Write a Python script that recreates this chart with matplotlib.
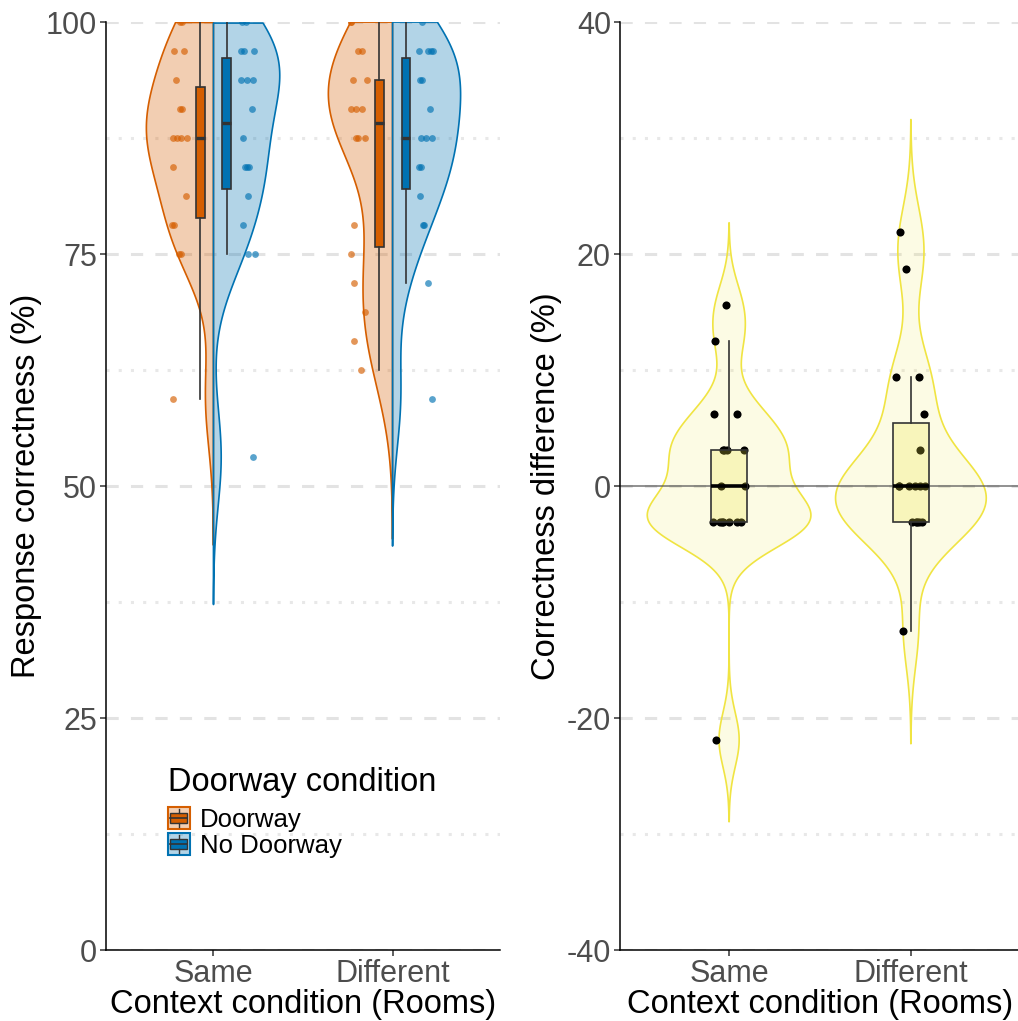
import numpy as np
import matplotlib
matplotlib.use("Agg")
import matplotlib.pyplot as plt
from matplotlib.patches import Rectangle
from matplotlib.lines import Line2D
from matplotlib.legend_handler import HandlerBase

plt.rcParams['font.family'] = ['Liberation Sans', 'DejaVu Sans']
plt.rcParams['axes.unicode_minus'] = False

# --- data (percent correct per participant) ---
conditions = ['Same', 'Different']
doorway_same = [59.375, 75, 75, 78.125, 78.125, 81.25, 84.375, 87.5, 87.5, 87.5, 87.5,
                90.625, 90.625, 93.75, 96.875, 96.875, 100, 100]
nodoor_same = [53.125, 75, 75, 78.125, 81.25, 84.375, 84.375, 84.375, 87.5, 90.625,
               93.75, 93.75, 93.75, 96.875, 96.875, 96.875, 100, 100]
doorway_diff = [62.5, 65.625, 68.75, 71.875, 75, 78.125, 87.5, 87.5, 87.5, 90.625,
                90.625, 90.625, 93.75, 93.75, 96.875, 96.875, 100, 100]
nodoor_diff = [59.375, 71.875, 78.125, 78.125, 81.25, 84.375, 84.375, 87.5, 87.5, 87.5,
               90.625, 93.75, 93.75, 96.875, 96.875, 96.875, 96.875, 100]
# correctness difference (Doorway - No Doorway)
diff_same = [-21.875, -3.125, -3.125, -3.125, -3.125, -3.125, -3.125, -3.125, 0, 0,
             3.125, 3.125, 3.125, 3.125, 6.25, 6.25, 12.5, 15.625]
diff_diff = [-12.5, -3.125, -3.125, -3.125, -3.125, -3.125, 0, 0, 0, 0, 0, 0,
             3.125, 6.25, 9.375, 9.375, 18.75, 21.875]

ORANGE = '#D55E00'
BLUE = '#0072B2'
YELLOW = '#F0E442'
DARK = '#333333'


def kde_nrd0(vals, top=None):
    # gaussian kernel density like R's density() with bw.nrd0, cut = 3
    v = np.asarray(vals, float)
    q1, q3 = np.percentile(v, [25, 75])
    bw = 0.9 * min(v.std(ddof=1), (q3 - q1) / 1.34) * len(v) ** -0.2
    grid = np.linspace(v.min() - 3 * bw, v.max() + 3 * bw, 512)
    if top is not None:
        grid = grid[grid <= top]
    d = np.exp(-0.5 * ((grid[:, None] - v[None, :]) / bw) ** 2).sum(1)
    d /= len(v) * bw * np.sqrt(2 * np.pi)
    return grid, d


def style_axes(ax, majors, minors):
    ax.set_yticks(majors)
    ax.set_yticks(minors, minor=True)
    ax.grid(axis='y', which='major', ls=(0, (4, 4)), color='#E3E3E3', lw=2.2)
    ax.grid(axis='y', which='minor', ls=(0, (1, 3)), color='#E8E8E8', lw=2.2)
    ax.set_axisbelow(True)
    for s in ['top', 'right']:
        ax.spines[s].set_visible(False)
    for s in ['left', 'bottom']:
        ax.spines[s].set_linewidth(1.1)
    ax.tick_params(which='major', labelsize=22, labelcolor='#4D4D4D', length=4,
                   width=1.1, color=DARK, pad=2.5)
    ax.tick_params(which='minor', length=0)
    ax.set_xticks([1, 2])
    ax.set_xticklabels(conditions)
    ax.set_xlim(0.4, 2.6)
    ax.set_xlabel('Context condition (Rooms)', fontsize=23.5, labelpad=0)


fig = plt.figure(figsize=(10.18, 10.21), dpi=100)
axL = fig.add_axes([106 / 1018, 71 / 1021, 394 / 1018, 928 / 1021])
axR = fig.add_axes([620 / 1018, 71 / 1021, 400 / 1018, 928 / 1021])

rng = np.random.default_rng(11)

# ---------------- left panel: split violins ----------------
groups = [(1, doorway_same, ORANGE, -1), (1, nodoor_same, BLUE, 1),
          (2, doorway_diff, ORANGE, -1), (2, nodoor_diff, BLUE, 1)]
dens = [kde_nrd0(g[1], top=100) for g in groups]
dmax = max(d.max() for _, d in dens)
for (pos, vals, col, side), (y, d) in zip(groups, dens):
    w = 0.38 * d / dmax
    if side < 0:
        axL.fill_betweenx(y, pos - w, pos, facecolor=col, alpha=0.3, lw=0, zorder=2)
        axL.fill_betweenx(y, pos - w, pos, facecolor='none', edgecolor=col, lw=1.2, zorder=2)
    else:
        axL.fill_betweenx(y, pos, pos + w, facecolor=col, alpha=0.3, lw=0, zorder=2)
        axL.fill_betweenx(y, pos, pos + w, facecolor='none', edgecolor=col, lw=1.2, zorder=2)

for pos, vals, col, side in groups:
    bp = axL.boxplot([vals], positions=[pos + side * 0.075], widths=0.05,
                     patch_artist=True, showfliers=False, showcaps=False,
                     manage_ticks=False, whis=1.5,
                     boxprops=dict(facecolor=col, edgecolor=DARK, lw=1.2),
                     medianprops=dict(color=DARK, lw=2.4),
                     whiskerprops=dict(color=DARK, lw=1.2))
    for a in bp['boxes'] + bp['medians'] + bp['whiskers']:
        a.set_zorder(3)
    jx = pos + side * 0.19 + rng.uniform(-0.045, 0.045, len(vals))
    axL.scatter(jx, vals, s=24, color=col, alpha=0.65, lw=0, zorder=4)

axL.set_ylim(0, 100)
style_axes(axL, [0, 25, 50, 75, 100], [12.5, 37.5, 62.5, 87.5])
axL.set_ylabel('Response correctness (%)', fontsize=23.5, labelpad=3)


class BoxKey(HandlerBase):
    def __init__(self, color):
        super().__init__()
        self.color = color

    def create_artists(self, legend, orig_handle, xdescent, ydescent, width, height,
                       fontsize, trans):
        x0, y0 = -xdescent, -ydescent
        c = self.color
        bg = Rectangle((x0, y0), width, height, facecolor=c, alpha=0.3, lw=0, transform=trans)
        edge = Rectangle((x0, y0), width, height, facecolor='none', edgecolor=c, lw=1.5,
                         transform=trans)
        box = Rectangle((x0 + 0.12 * width, y0 + 0.28 * height), 0.76 * width, 0.44 * height,
                        facecolor=c, edgecolor=DARK, lw=1.0, transform=trans)
        med = Line2D([x0 + 0.12 * width, x0 + 0.88 * width], [y0 + 0.5 * height] * 2,
                     color=DARK, lw=1.2, transform=trans)
        w1 = Line2D([x0 + 0.5 * width] * 2, [y0 + 0.08 * height, y0 + 0.28 * height],
                    color=DARK, lw=1.0, transform=trans)
        w2 = Line2D([x0 + 0.5 * width] * 2, [y0 + 0.72 * height, y0 + 0.92 * height],
                    color=DARK, lw=1.0, transform=trans)
        return [bg, edge, box, med, w1, w2]


axL.text(0.157, 0.18, 'Doorway condition', transform=axL.transAxes, fontsize=23.5,
         ha='left', va='center')
h1 = Rectangle((0, 0), 1, 1)
h2 = Rectangle((0, 0), 1, 1)
leg = axL.legend([h1, h2], ['Doorway', 'No Doorway'],
                 handler_map={h1: BoxKey(ORANGE), h2: BoxKey(BLUE)},
                 fontsize=18.5, loc='upper left', bbox_to_anchor=(0.157, 0.154),
                 frameon=False, borderpad=0, borderaxespad=0,
                 handlelength=0.85, handleheight=0.95, labelspacing=0.03,
                 handletextpad=0.4)

# ---------------- right panel: differences ----------------
rgroups = [(1, diff_same), (2, diff_diff)]
rdens = [kde_nrd0(v) for _, v in rgroups]
rmax = max(d.max() for _, d in rdens)
for (pos, vals), (y, d) in zip(rgroups, rdens):
    w = 0.45 * d / rmax
    axR.fill_betweenx(y, pos - w, pos + w, facecolor=YELLOW, alpha=0.14, lw=0, zorder=2)
    axR.fill_betweenx(y, pos - w, pos + w, facecolor='none', edgecolor=YELLOW, lw=1.2, zorder=2)

axR.axhline(0, color='#555555', alpha=0.7, lw=1.3, zorder=2.5)

for pos, vals in rgroups:
    jx = pos + rng.uniform(-0.09, 0.09, len(vals))
    axR.scatter(jx, vals, s=34, color='black', lw=0, zorder=3)
    bp = axR.boxplot([vals], positions=[pos], widths=0.2, patch_artist=True,
                     showfliers=False, showcaps=False, manage_ticks=False, whis=1.5,
                     boxprops=dict(facecolor=(0.941, 0.894, 0.259, 0.25), edgecolor=DARK, lw=1.2),
                     medianprops=dict(color='black', lw=2.6),
                     whiskerprops=dict(color=DARK, lw=1.2))
    for a in bp['boxes'] + bp['medians'] + bp['whiskers']:
        a.set_zorder(4)

axR.set_ylim(-40, 40)
style_axes(axR, [-40, -20, 0, 20, 40], [-30, -10, 10, 30])
axR.set_ylabel('Correctness difference (%)', fontsize=23.5, labelpad=3)

fig.savefig('out.png', dpi=100)
